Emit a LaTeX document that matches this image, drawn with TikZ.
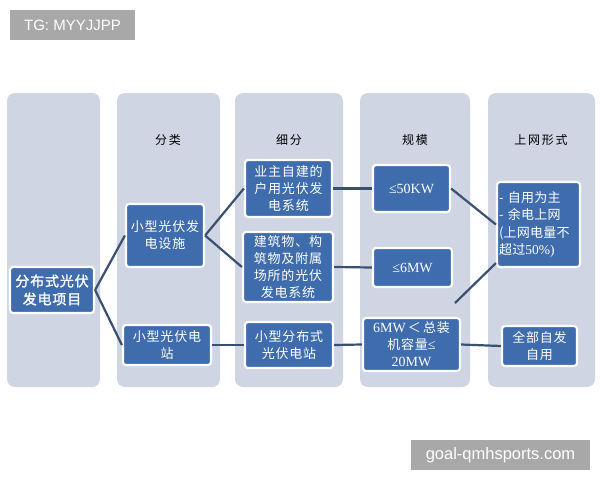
\documentclass[tikz,border=0pt]{standalone}
\usepackage{fontspec}
\setmainfont{Liberation Serif}
\newfontfamily\cjk{Noto Sans CJK SC}[LetterSpace=6]
\newfontfamily\cjkt{Noto Sans CJK SC}[LetterSpace=2]
\newfontfamily\cjkb{Noto Sans CJK SC}[LetterSpace=6,FakeBold=1.5]
\newfontfamily\cjkh{Noto Sans CJK SC}[LetterSpace=15]
\newfontfamily\wmfont{Liberation Sans}
\definecolor{colbg}{RGB}{207,213,227}
\definecolor{nodeblue}{RGB}{62,108,172}
\definecolor{linec}{RGB}{58,80,112}
\definecolor{wmgray}{RGB}{168,168,168}
\tikzset{
  colbox/.style={fill=colbg, rounded corners=8pt, draw=none},
  box/.style={draw=white, line width=2.2pt, fill=nodeblue, rounded corners=3pt, text=white,
    align=center, inner sep=0pt, font=\cjk\fontsize{13}{17}\selectfont},
  head/.style={font=\cjkh\fontsize{12}{14}\selectfont, text=black},
  conn/.style={draw=linec, line width=2.2pt},
  wm/.style={fill=wmgray, text=white, font=\wmfont\fontsize{15}{18}\selectfont, inner sep=0pt}
}
\begin{document}
\begin{tikzpicture}[x=1pt,y=-1pt]
\useasboundingbox (0,0) rectangle (600,480);
\fill[white] (0,0) rectangle (600,480);
% columns
\path[colbox] (7,93) rectangle (100,387);
\path[colbox] (117,93) rectangle (220,387);
\path[colbox] (235,93) rectangle (343,387);
\path[colbox] (360,93) rectangle (470,387);
\path[colbox] (488,93) rectangle (595,387);
% headers
\node[head] (h2) at (168,140) {分类};
\node[head] (h3) at (289,140) {细分};
\node[head] (h4) at (415,140) {规模};
\node[head] (h5) at (541,140) {上网形式};
% nodes
\node[box, minimum width=84pt, minimum height=46pt, font=\cjkb\fontsize{14}{18}\selectfont] (n1) at (52,290) {分布式光伏\\发电项目};
\node[box, minimum width=78pt, minimum height=63pt] (n2) at (165,235.5) {小型光伏发\\电设施};
\node[box, minimum width=88pt, minimum height=40pt] (n3) at (167,345) {小型光伏电\\站};
\node[box, minimum width=87pt, minimum height=57pt] (n4) at (288.5,188.5) {业主自建的\\户用光伏发\\电系统};
\node[box, minimum width=90pt, minimum height=70pt] (n5) at (288,267) {建筑物、构\\筑物及附属\\场所的光伏\\发电系统};
\node[box, minimum width=88pt, minimum height=46pt] (n6) at (289,345) {小型分布式\\光伏电站};
\node[box, minimum width=77pt, minimum height=47pt, font=\rmfamily\fontsize{14}{16}\selectfont] (n7) at (411.5,188.5) {≤50KW};
\node[box, minimum width=79pt, minimum height=39pt, font=\rmfamily\fontsize{14}{16}\selectfont] (n8) at (412.5,267.5) {≤6MW};
\node[box, minimum width=97pt, minimum height=53pt] (n9) at (411.5,344.5) {{\rmfamily\fontsize{14}{16.5}\selectfont 6MW}\,＜\,总装\\机容量{\rmfamily\fontsize{14}{16.5}\selectfont ≤}\\{\rmfamily\fontsize{14}{16.5}\selectfont 20MW}};
\node[box, minimum width=83pt, minimum height=85pt, align=left, text width=79pt, font=\cjkt\fontsize{13}{17.5}\selectfont] (n10) at (538.5,224.5) {- 自用为主\\- 余电上网\\(上网电量不\\超过{\rmfamily\fontsize{13.5}{17.5}\selectfont 50\%)}};
\node[box, minimum width=75pt, minimum height=40pt] (n11) at (539.5,346) {全部自发\\自用};
% connectors
\coordinate (fe) at (455,303);
\draw[conn] (n1.east) -- (n2.west);
\draw[conn] (n1.east) -- (n3.west);
\draw[conn] (n2.east) -- (n4.west);
\draw[conn] (n2.east) -- (n5.west);
\draw[conn] (n3.east) -- (n6.west);
\draw[conn] (n4.east) -- (n7.west);
\draw[conn] (n5.east) -- (n8.west);
\draw[conn] (n6.east) -- (n9.west);
\draw[conn] (n7.east) -- (n10.west);
\draw[conn] (fe) -- ([yshift=5pt]n10.south west);
\draw[conn] (n9.east) -- (n11.west);
% watermarks
\node[wm, minimum width=125pt, minimum height=30pt] (w1) at (72.5,25) {TG: MYYJJPP};
\node[wm, minimum width=179pt, minimum height=30pt, font=\wmfont\fontsize{16.5}{18}\selectfont] (w2) at (500.5,455) {goal-qmhsports.com};
\end{tikzpicture}
\end{document}
